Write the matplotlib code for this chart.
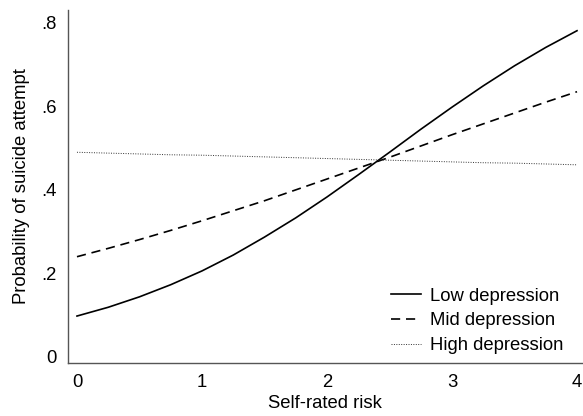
import matplotlib
matplotlib.use('Agg')
import matplotlib.pyplot as plt

plt.rcParams['font.family'] = ['Liberation Sans', 'DejaVu Sans']

# 数据：自评风险 与 不同抑郁水平下的自杀未遂概率
risk = [0, 0.25, 0.5, 0.75, 1, 1.25, 1.5, 1.75, 2, 2.25, 2.5, 2.75, 3, 3.25, 3.5, 3.75, 4]
low_dep = [0.098, 0.119, 0.144, 0.173, 0.206, 0.244, 0.287, 0.333, 0.383,
           0.436, 0.490, 0.545, 0.598, 0.649, 0.697, 0.741, 0.781]
mid_dep = [0.240, 0.260, 0.281, 0.303, 0.326, 0.350, 0.374, 0.400, 0.426,
           0.452, 0.478, 0.505, 0.532, 0.558, 0.584, 0.610, 0.635]
high_dep = [0.490, 0.488, 0.486, 0.484, 0.483, 0.481, 0.479, 0.477, 0.475,
            0.473, 0.471, 0.469, 0.467, 0.465, 0.464, 0.462, 0.460]
yticks = [0, 0.2, 0.4, 0.6, 0.8]
ytick_labels = ['0', '.2', '.4', '.6', '.8']
xticks = [0, 1, 2, 3, 4]

fs = 13.3

fig = plt.figure(figsize=(5.83, 4.16), dpi=100)
ax = fig.add_axes([0.1166, 0.1274, 0.8817, 0.849])

ax.plot(risk, low_dep, color='black', lw=1.2, label='Low depression')
ax.plot(risk, mid_dep, color='black', lw=1.2, linestyle=(0, (5.5, 3.5)), label='Mid depression')
ax.plot(risk, high_dep, color='#333333', lw=0.7, linestyle=(0, (1, 1.5)), label='High depression')

ax.set_xlim(-0.072, 4.04)
ax.set_ylim(-0.0144, 0.831)
ax.set_xticks(xticks)
ax.set_yticks(yticks)
ax.set_yticklabels(ytick_labels)
ax.tick_params(length=0, labelsize=fs, pad=8)
ax.tick_params(axis='y', pad=8)

for s in ['top', 'right']:
    ax.spines[s].set_visible(False)
for s in ['left', 'bottom']:
    ax.spines[s].set_color('#555555')
    ax.spines[s].set_linewidth(1.0)

ax.set_xlabel('Self-rated risk', fontsize=fs, labelpad=3)
ax.set_ylabel('Probability of suicide attempt', fontsize=fs, labelpad=8)

ax.legend(loc='lower right', bbox_to_anchor=(0.986, -0.006), frameon=False, fontsize=fs,
          handlelength=1.65, handletextpad=0.5, labelspacing=0.42, borderaxespad=0.2)

plt.savefig('out.png', dpi=100)
